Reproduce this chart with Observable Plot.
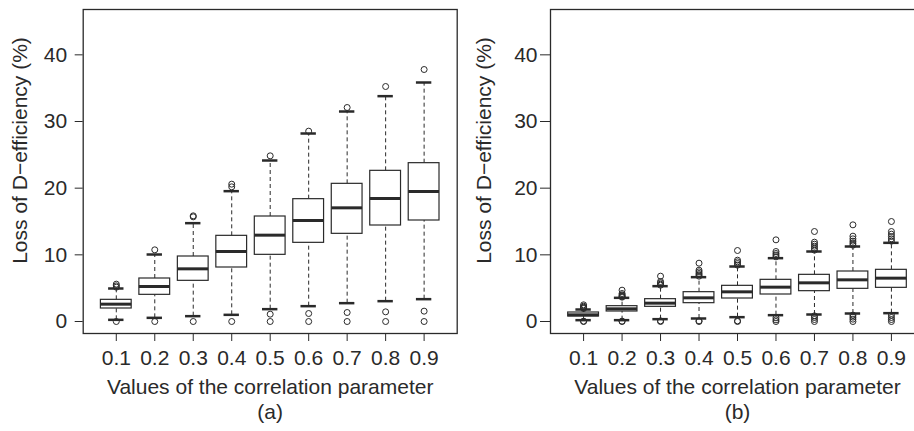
<!DOCTYPE html>
<html>
<head>
<meta charset="utf-8">
<script src="https://cdn.jsdelivr.net/npm/d3@7"></script>
<script src="https://cdn.jsdelivr.net/npm/@observablehq/plot@0.6"></script>
<style>
  html, body { margin: 0; padding: 0; background: #fff; }
  #wrap { position: relative; width: 914px; height: 431px; overflow: hidden; background: #fff; }
  .panel { position: absolute; top: 0; }
  .panel svg { max-width: none !important; }
</style>
</head>
<body>
<div id="wrap">
  <div class="panel" id="pa" style="left:0px;width:460px;"></div>
  <div class="panel" id="pb" style="left:460px;width:464px;"></div>
</div>
<script>
// Categories (correlation parameter) and tick labels
const params = ["0.1", "0.2", "0.3", "0.4", "0.5", "0.6", "0.7", "0.8", "0.9"];
const yTicks = [0, 10, 20, 30, 40];
const xTitle = "Values of the correlation parameter";
const yTitle = "Loss of D\u2212efficiency (%)";

// Panel (a)
const aLow    = [0.25, 0.55, 0.8, 1.0, 1.85, 2.3, 2.75, 3.05, 3.35];
const aQ1     = [1.95, 4.0, 6.1, 8.1, 10.0, 11.8, 13.15, 14.4, 15.15];
const aMedian = [2.6, 5.25, 7.9, 10.5, 12.95, 15.15, 17.05, 18.45, 19.5];
const aQ3     = [3.25, 6.45, 9.75, 12.85, 15.75, 18.35, 20.65, 22.6, 23.75];
const aHigh   = [4.95, 10.05, 14.75, 19.55, 24.15, 28.2, 31.5, 33.8, 35.85];
const aOutliers = [
  [0, 5.15, 5.35, 5.6],
  [0, 10.75],
  [0, 15.7, 15.85],
  [0, 20.2, 20.6],
  [0, 1.1, 24.85],
  [0, 1.2, 28.55],
  [0, 1.35, 32.1],
  [0, 1.45, 35.25],
  [0, 1.55, 37.8]
];

// Panel (b)
const bLow    = [0.2, 0.2, 0.35, 0.45, 0.65, 0.95, 1.05, 1.2, 1.25];
const bQ1     = [0.75, 1.5, 2.2, 2.75, 3.45, 4.05, 4.55, 4.9, 5.05];
const bMedian = [1.0, 1.9, 2.75, 3.55, 4.45, 5.15, 5.8, 6.25, 6.5];
const bQ3     = [1.35, 2.3, 3.35, 4.4, 5.35, 6.25, 7.0, 7.5, 7.75];
const bHigh   = [1.8, 3.55, 5.3, 6.65, 8.25, 9.5, 10.5, 11.25, 11.8];
const bOutliers = [
  [0, 0.05, 1.95, 2.05, 2.15, 2.3, 2.5],
  [0, 0.05, 3.65, 3.75, 3.85, 4.0, 4.2, 4.7],
  [0, 0.1, 5.45, 5.6, 5.8, 6.0, 6.8],
  [0, 0.1, 6.8, 7.0, 7.2, 7.45, 7.7, 8.75],
  [0, 0.1, 8.45, 8.7, 8.95, 9.2, 10.65],
  [0, 0.25, 0.55, 9.7, 9.95, 10.2, 10.5, 12.25],
  [0, 0.3, 0.6, 0.85, 10.7, 11.0, 11.3, 11.6, 11.9, 13.5],
  [0, 0.35, 0.65, 0.95, 11.45, 11.75, 12.05, 12.4, 12.8, 14.5],
  [0, 0.3, 0.6, 0.95, 12.05, 12.4, 12.75, 13.1, 13.5, 15.0]
];

const FONT = "'Liberation Sans', Arial, Helvetica, sans-serif";
const INK = "#2a2a2a";

function panel({low, q1, med, q3, high, outliers, tag, width, marginLeft, yTickSize, yTickPad, yTitleDx}) {
  const rows = params.map((p, i) => ({x: i + 1, lo: low[i], q1: q1[i], med: med[i], q3: q3[i], hi: high[i]}));
  const outs = outliers.flatMap((arr, i) => arr.map(v => ({x: i + 1, y: v})));
  const bw = 0.4, sw = 0.2;
  return Plot.plot({
    width,
    height: 431,
    marginLeft,
    marginRight: width - marginLeft - 374,
    marginTop: 9,
    marginBottom: 98,
    style: {fontFamily: FONT, fontSize: "21px", color: INK, background: "transparent", maxWidth: "none"},
    x: {type: "linear", domain: [0.14, 9.86]},
    y: {type: "linear", domain: [-1.8, 46.8]},
    marks: [
      Plot.ruleX(rows, {x: "x", y1: "q3", y2: "hi", stroke: INK, strokeWidth: 1, strokeDasharray: "4,3"}),
      Plot.ruleX(rows, {x: "x", y1: "lo", y2: "q1", stroke: INK, strokeWidth: 1, strokeDasharray: "4,3"}),
      Plot.ruleY(rows, {y: "hi", x1: d => d.x - sw, x2: d => d.x + sw, stroke: INK, strokeWidth: 2.5}),
      Plot.ruleY(rows, {y: "lo", x1: d => d.x - sw, x2: d => d.x + sw, stroke: INK, strokeWidth: 2.5}),
      Plot.rect(rows, {x1: d => d.x - bw, x2: d => d.x + bw, y1: "q1", y2: "q3", fill: "white", stroke: INK, strokeWidth: 1.2}),
      Plot.ruleY(rows, {y: "med", x1: d => d.x - bw, x2: d => d.x + bw, stroke: INK, strokeWidth: 3}),
      Plot.dot(outs, {x: "x", y: "y", r: 3, stroke: INK, strokeWidth: 1, fill: "none"}),
      Plot.frame({stroke: INK, strokeWidth: 1.3}),
      Plot.axisX({ticks: [1, 2, 3, 4, 5, 6, 7, 8, 9], tickFormat: d => params[d - 1], tickSize: 8, tickPadding: 9, fontSize: 21, label: null, stroke: INK}),
      Plot.axisY({ticks: yTicks, tickFormat: d => String(d), tickSize: yTickSize, tickPadding: yTickPad, fontSize: 21, label: null, stroke: INK}),
      Plot.text([xTitle], {frameAnchor: "bottom", text: d => d, textAnchor: "middle", lineAnchor: "top", dy: 45.5, fontSize: 21, fill: INK}),
      Plot.text([tag], {frameAnchor: "bottom", text: d => d, textAnchor: "middle", lineAnchor: "top", dy: 70.5, fontSize: 21, fill: INK}),
      Plot.text([yTitle], {frameAnchor: "left", text: d => d, textAnchor: "middle", lineAnchor: "middle", rotate: -90, dx: yTitleDx, dy: -21, fontSize: 21, fill: INK})
    ]
  });
}

document.getElementById("pa").appendChild(panel({
  low: aLow, q1: aQ1, med: aMedian, q3: aQ3, high: aHigh, outliers: aOutliers,
  tag: "(a)", width: 460, marginLeft: 82.7, yTickSize: 8, yTickPad: 8, yTitleDx: -62.7
}));
document.getElementById("pb").appendChild(panel({
  low: bLow, q1: bQ1, med: bMedian, q3: bQ3, high: bHigh, outliers: bOutliers,
  tag: "(b)", width: 464, marginLeft: 90, yTickSize: 10, yTickPad: 3, yTitleDx: -66
}));
</script>
</body>
</html>
